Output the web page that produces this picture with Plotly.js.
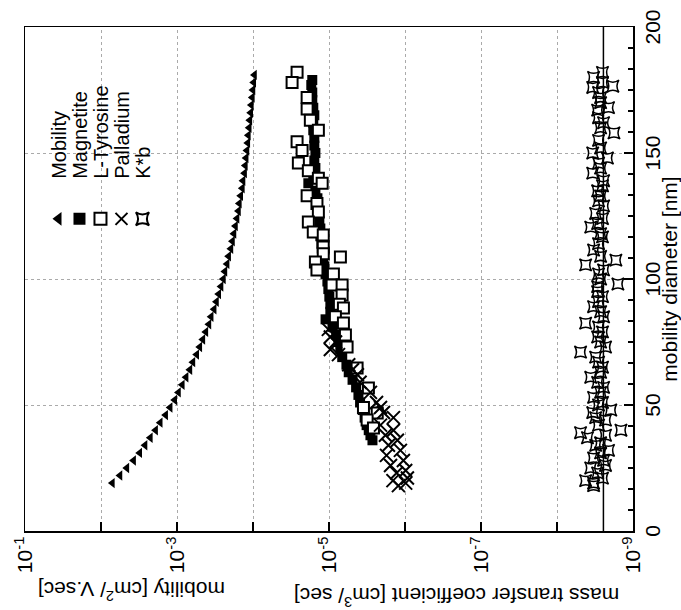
<!DOCTYPE html>
<html>
<head>
<meta charset="utf-8">
<script src="https://cdn.plot.ly/plotly-3.0.1.min.js"></script>
<style>
html,body{margin:0;padding:0;overflow:hidden;background:#fff;width:681px;height:610px;}
#wrap{position:absolute;left:0;top:0;width:610px;height:681px;transform-origin:0 0;transform:translateY(610px) rotate(-90deg);}
#chart{width:610px;height:681px;}
</style>
</head>
<body>
<div id="wrap"><div id="chart"></div></div>
<script>
// ---- data (diameter in nm; mobility in cm2/V.sec; mass transfer coefficient in cm3/sec) ----
const mobilityD = [19,22,25,28,31,34,37,40,43,46,49,52,55,58,61,64,67,70,73,76,79,82,85,88,91,94,97,100,103,106,109,112,115,118,121,124,127,130,133,136,139,142,145,148,151,154,157,160,163,166,169,172,175,178,181];
const mobilityV = [7.08e-3,5.62e-3,4.57e-3,3.72e-3,3.09e-3,2.63e-3,2.24e-3,1.91e-3,1.66e-3,1.41e-3,1.23e-3,1.07e-3,9.55e-4,8.51e-4,7.59e-4,6.76e-4,6.17e-4,5.50e-4,5.01e-4,4.57e-4,4.17e-4,3.80e-4,3.55e-4,3.24e-4,3.02e-4,2.82e-4,2.63e-4,2.45e-4,2.34e-4,2.19e-4,2.09e-4,1.95e-4,1.86e-4,1.78e-4,1.70e-4,1.62e-4,1.55e-4,1.51e-4,1.45e-4,1.38e-4,1.35e-4,1.29e-4,1.26e-4,1.23e-4,1.20e-4,1.17e-4,1.15e-4,1.12e-4,1.10e-4,1.07e-4,1.05e-4,1.02e-4,1.00e-4,9.77e-5,9.55e-5];

const magnetiteD = [36,38,40,42,45,48,51,54,57,60,63,66,69,72,75,78,81,84,87,90,93,96,99,102,105,108,111,114,117,120,123,126,129,132,135,138,141,144,147,150,153,156,159,162,165,168,171,174,177,179];
const magnetiteV = [2.68e-6,2.85e-6,3.0e-6,3.2e-6,3.4e-6,3.6e-6,3.9e-6,4.1e-6,4.4e-6,4.9e-6,5.5e-6,5.9e-6,6.7e-6,7.1e-6,7.5e-6,8.0e-6,9.0e-6,1.11e-5,9.6e-6,9.6e-6,9.9e-6,1.02e-5,1.05e-5,1.11e-5,1.15e-5,1.19e-5,1.22e-5,1.26e-5,1.30e-5,1.30e-5,1.34e-5,1.38e-5,1.42e-5,1.42e-5,1.51e-5,1.87e-5,1.61e-5,1.51e-5,1.56e-5,1.51e-5,1.56e-5,1.56e-5,1.61e-5,1.61e-5,1.56e-5,1.61e-5,1.66e-5,1.66e-5,1.71e-5,1.66e-5];

const tyrosineD = [182,178,172,167.5,163,159,154.5,151,146,143,140,138,133,130,126.6,122.6,118.7,117.5,112.7,110,108.7,106.7,103.6,102,97.6,97.6,93.7,90,88.5,85,82.5,77.8,73,64.7,56.7,49,46.8,44,40.9];
const tyrosineV = [2.63e-5,3.06e-5,1.94e-5,1.94e-5,1.76e-5,1.38e-5,2.63e-5,2.26e-5,2.53e-5,1.87e-5,1.38e-5,1.23e-5,1.94e-5,1.44e-5,1.38e-5,1.87e-5,1.61e-5,1.19e-5,1.19e-5,1.19e-5,7.08e-6,1.51e-5,1.44e-5,8.75e-6,9.1e-6,6.72e-6,6.72e-6,7.3e-6,6.46e-6,8.24e-6,6.46e-6,6.08e-6,5.78e-6,4.27e-6,3.03e-6,3.52e-6,2.32e-6,3.15e-6,2.60e-6];

const palladiumD = [18,19,20,21,23,24,26,28,30,32,34,36,38,40,42,45,47,49,51,55,59,62,64,66,70,72,75,77,80];
const palladiumV = [1.22e-6,9.8e-7,1.44e-6,9.3e-7,1.29e-6,9.8e-7,1.55e-6,1.05e-6,1.75e-6,1.15e-6,1.65e-6,1.26e-6,1.81e-6,1.42e-6,2.10e-6,1.42e-6,1.92e-6,2.10e-6,2.37e-6,2.85e-6,3.9e-6,4.23e-6,4.9e-6,5.5e-6,7.5e-6,9.6e-6,8.2e-6,9.6e-6,1.02e-5];

const kbD = [18,19,20,21,23,25,26,28,29,31,32,34,35,37,38,39,40,42,44,45,47,48,50,51,53,55,57,59,61,63,65,67,69,71,73,75,77,79,81,82.5,85,87,89,91,93,95,97,98,100,102,103.6,105.6,107.5,109,111.5,114,116.7,118,120.6,122,124,126,129,131,133,135,137,139,142,144,146,148,150,152,155,158,160,162,164,167,168,170,172,174,176,176.5,178,180,182];
const kbV = [3.3e-9,3.3e-9,4.2e-9,2.52e-9,2.92e-9,3.6e-9,2.3e-9,2.44e-9,3.3e-9,2.67e-9,2.1e-9,3.1e-9,2.67e-9,3.97e-9,2.3e-9,4.9e-9,1.44e-9,2.84e-9,2.3e-9,3.1e-9,3.39e-9,1.96e-9,2.84e-9,2.52e-9,3.3e-9,2.67e-9,2.44e-9,2.92e-9,3.6e-9,2.67e-9,2.52e-9,2.84e-9,3.1e-9,4.9e-9,2.3e-9,2.67e-9,2.92e-9,2.52e-9,2.84e-9,4.2e-9,2.44e-9,2.67e-9,3.3e-9,2.84e-9,2.52e-9,2.92e-9,2.92e-9,1.58e-9,2.67e-9,2.84e-9,2.44e-9,4.2e-9,1.68e-9,2.67e-9,3.3e-9,2.84e-9,2.52e-9,2.67e-9,3.6e-9,2.92e-9,2.52e-9,3.1e-9,2.44e-9,2.84e-9,2.67e-9,2.92e-9,2.52e-9,2.44e-9,3.39e-9,2.67e-9,2.84e-9,2.17e-9,3.39e-9,2.67e-9,2.84e-9,1.78e-9,2.67e-9,2.44e-9,2.84e-9,2.92e-9,2.1e-9,2.67e-9,2.67e-9,2.84e-9,3.39e-9,1.84e-9,2.52e-9,3.3e-9,2.52e-9];

const kbLineD = [0,200];
const kbLineV = [2.45e-9,2.45e-9];

const yTickVals = [1e-9,1e-7,1e-5,1e-3,1e-1];
const yTickText = ['10<sup>-9</sup>','10<sup>-7</sup>','10<sup>-5</sup>','10<sup>-3</sup>','10<sup>-1</sup>'];
const yMinorVals = [1e-8,1e-6,1e-4,1e-2];
const xTickVals = [0,50,100,150,200];

const FONT = '"Liberation Sans", Arial, Helvetica, sans-serif';

const traces = [
  {x:kbLineD, y:kbLineV, mode:'lines', line:{color:'#000', width:1.5}, showlegend:false, hoverinfo:'skip'},
  {name:'Mobility', x:mobilityD, y:mobilityV, mode:'markers',
   marker:{symbol:'triangle-up', size:9, color:'#000', line:{width:0}}},
  {name:'Magnetite', x:magnetiteD, y:magnetiteV, mode:'markers',
   marker:{symbol:'square', size:10, color:'#000', line:{width:0}}},
  {name:'L-Tyrosine', x:tyrosineD, y:tyrosineV, mode:'markers',
   marker:{symbol:'square', size:11, color:'#fff', line:{color:'#000', width:2}}},
  {name:'Palladium', x:palladiumD, y:palladiumV, mode:'markers',
   marker:{symbol:'x-thin-open', size:13, color:'#000', line:{color:'#000', width:2}}},
  {name:'K*b', x:kbD, y:kbV, mode:'markers',
   marker:{symbol:'star-square-open', size:11, color:'#000', line:{color:'#000', width:1.5}}}
];

const gridStyle = {showgrid:true, gridcolor:'#aaa', griddash:'dot', gridwidth:1};

const layout = {
  width:610, height:681,
  margin:{l:79, r:27, t:25, b:48},
  paper_bgcolor:'#fff', plot_bgcolor:'#fff',
  font:{family:FONT, size:21, color:'#000'},
  showlegend:true,
  legend:{x:0.54, y:0.977, xanchor:'left', yanchor:'top', bgcolor:'rgba(0,0,0,0)', borderwidth:0,
          itemwidth:70, font:{family:FONT, size:20, color:'#000'}, itemsizing:'constant'},
  xaxis:Object.assign({range:[0,200], tickmode:'array', tickvals:xTickVals, ticks:'inside', ticklen:9, tickwidth:1.5, tickcolor:'#000',
         showline:true, linecolor:'#000', linewidth:1.5, mirror:true, zeroline:false,
         minor:{dtick:25/3, tick0:0, ticks:'inside', ticklen:5, tickcolor:'#000', showgrid:false},
         title:{text:'mobility diameter [nm]', font:{size:21}, standoff:2},
         tickfont:{size:21}, automargin:false}, gridStyle),
  yaxis:Object.assign({type:'log', range:[-9,-1], tickmode:'array', tickvals:yTickVals, ticktext:yTickText, ticks:'inside', ticklen:9, tickwidth:1.5, tickcolor:'#000',
         showline:true, linecolor:'#000', linewidth:1.5, mirror:true, zeroline:false,
         minor:{tickmode:'array', tickvals:yMinorVals, ticks:'inside', ticklen:9, tickwidth:1.5, tickcolor:'#000',
                showgrid:true, gridcolor:'#aaa', griddash:'dot', gridwidth:1},
         tickfont:{size:21}, automargin:false}, gridStyle),
  annotations:[
    {text:'mobility [cm<sup>2</sup>/ V.sec]', textangle:-90, xref:'paper', yref:'paper', x:-0.118, y:0.825,
     xanchor:'center', yanchor:'middle', showarrow:false, font:{family:FONT, size:21, color:'#000'}},
    {text:'mass transfer coefficient [cm<sup>3</sup>/ sec]', textangle:-90, xref:'paper', yref:'paper', x:-0.132, y:0.29,
     xanchor:'center', yanchor:'middle', showarrow:false, font:{family:FONT, size:21, color:'#000'}}
  ]
};

Plotly.newPlot('chart', traces, layout, {displayModeBar:false, staticPlot:true}).then(function(gd){
  // tighten legend row spacing to match the reference
  const items = gd.querySelectorAll('.legend .traces');
  if (!items.length) return;
  const m = /translate\(([-\d.]+),\s*([-\d.]+)\)/.exec(items[0].getAttribute('transform') || '');
  const x0 = m ? parseFloat(m[1]) : 0, y0 = m ? parseFloat(m[2]) : 0;
  items.forEach(function(el, i){ el.setAttribute('transform', 'translate(' + x0 + ',' + (y0 + i*21) + ')'); });
});
</script>
</body>
</html>
